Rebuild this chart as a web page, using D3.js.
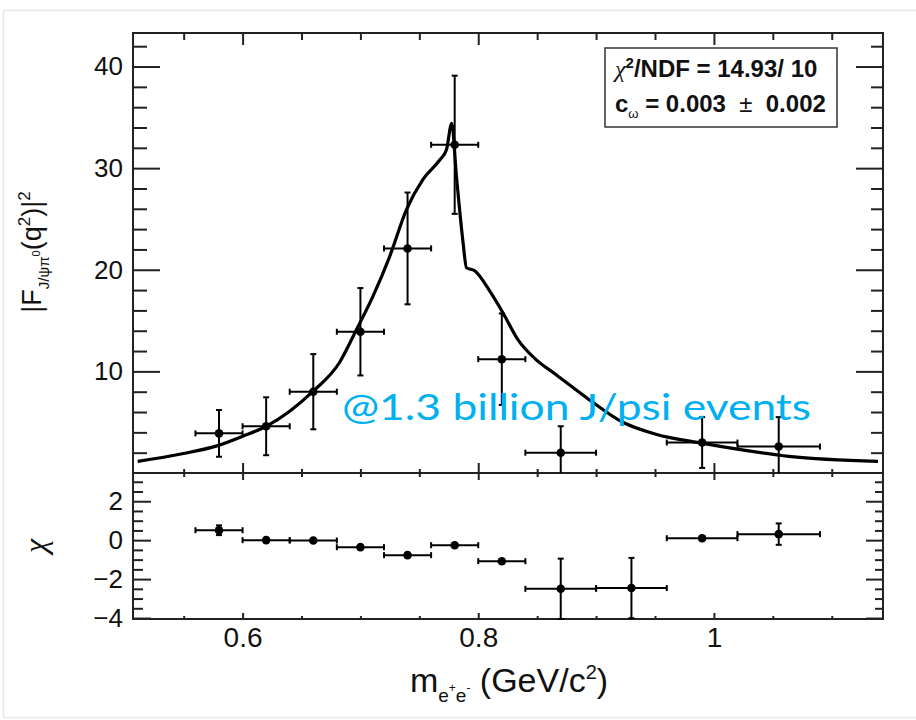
<!DOCTYPE html>
<html>
<head>
<meta charset="utf-8">
<script src="https://cdn.jsdelivr.net/npm/d3@7"></script>
<style>
body { margin: 0; background: #fff; }
svg text { font-family: "Liberation Sans", Arial, sans-serif; fill: #111; }
.ticks line { stroke: #222; stroke-width: 2; }
</style>
</head>
<body>
<script>
const WIDTH = 916;
const HEIGHT = 720;
const LEFT = 133, RIGHT = 883, TOP = 33, MID = 473, BOTTOM = 619;

// bins in m(e+e-)
var binCenter = [0.58, 0.62, 0.66, 0.70, 0.74, 0.78, 0.82, 0.87, 0.93, 0.99, 1.055];
var binLow    = [0.56, 0.60, 0.64, 0.68, 0.72, 0.76, 0.80, 0.84, 0.90, 0.96, 1.02];
var binHigh   = [0.60, 0.64, 0.68, 0.72, 0.76, 0.80, 0.84, 0.90, 0.96, 1.02, 1.09];

// |F|^2 data (the 0.93 bin is off scale)
var formFactor    = [3.9, 4.6, 8.0, 13.9, 22.1, 32.3, 11.2, 2.0, null, 3.0, 2.6];
var formFactorErr = [2.3, 2.85, 3.7, 4.3, 5.5, 6.8, 4.5, 2.6, null, 2.5, 2.9];

// pulls
var chi    = [0.51, 0.0, -0.02, -0.36, -0.77, -0.26, -1.08, -2.5, -2.46, 0.1, 0.31];
var chiErr = [0.25, 0, 0, 0, 0, 0, 0, 1.55, 1.55, 0, 0.55];

// fit curve
var fitMass = [0.511, 0.5465, 0.5796, 0.600, 0.620, 0.640, 0.6594, 0.6824, 0.6966, 0.7107, 0.7248,
               0.7390, 0.7531, 0.7673, 0.7730, 0.7775, 0.7815, 0.7871, 0.7900, 0.7970, 0.8098,
               0.8208, 0.8335, 0.8488, 0.8658, 0.8938, 0.9227, 0.9507, 0.9907, 1.0212, 1.0637, 1.1393];
var fitValue = [1.15, 1.84, 2.72, 3.61, 4.59, 6.07, 8.0, 10.9, 14.1, 17.4, 21.3,
                25.9, 28.9, 30.8, 31.8, 34.4, 29.2, 22.7, 20.2, 19.9, 17.9,
                15.8, 13.15, 11.18, 9.7, 7.25, 4.99, 3.81, 2.92, 2.33, 1.64, 1.15];

var xMajor = [0.6, 0.8, 1.0];
var xMinor = d3.range(0.55, 1.14, 0.05).filter(function (v) { return xMajor.every(function (m) { return Math.abs(m - v) > 1e-6; }); });
var yMajor = [10, 20, 30, 40];
var yMinor = d3.range(2, 43, 2).filter(function (v) { return v % 10 !== 0; });
var chiMajor = [-4, -2, 0, 2];
var chiMinor = d3.range(-3.5, 3.1, 0.5).filter(function (v) { return v % 2 !== 0; });

var svg = d3.select('body').append('svg')
    .attr('width', WIDTH)
    .attr('height', HEIGHT);

// faint slide border
svg.append('rect')
    .attr('x', 3.5).attr('y', 10.5)
    .attr('width', 920).attr('height', 707)
    .attr('fill', 'none').attr('stroke', '#e8e8e8').attr('stroke-width', 1.5);

var xScale = d3.scaleLinear().domain([0.507, 1.1435]).range([LEFT, RIGHT]);
var yScale = d3.scaleLinear().domain([0, 43.3]).range([MID, TOP]);
var chiScale = d3.scaleLinear().domain([-4.05, 3.45]).range([BOTTOM, MID]);

var ticks = function (axis, x, y, values, size, labelled, padding) {
    var a = axis.tickValues(values).tickSizeInner(size).tickSizeOuter(0);
    if (labelled) {
        a.tickPadding(padding).tickFormat(d3.format('~g'));
    } else {
        a.tickFormat('');
    }
    var g = svg.append('g')
        .attr('class', 'ticks')
        .attr('transform', 'translate(' + x + ',' + y + ')')
        .call(a);
    g.select('.domain').remove();
    return g;
};

// upper panel ticks
ticks(d3.axisLeft(yScale), LEFT, 0, yMajor, -27, true, 10)
    .selectAll('text').attr('font-size', 26).attr('fill', '#111');
ticks(d3.axisLeft(yScale), LEFT, 0, yMinor, -14);
ticks(d3.axisRight(yScale), RIGHT, 0, yMajor, -27);
ticks(d3.axisRight(yScale), RIGHT, 0, yMinor, -12);
ticks(d3.axisTop(xScale), 0, TOP, xMajor, -12);
ticks(d3.axisTop(xScale), 0, TOP, xMinor, -7);
ticks(d3.axisBottom(xScale), 0, MID, xMajor, -10);
ticks(d3.axisBottom(xScale), 0, MID, xMinor, -4);

// lower panel ticks
ticks(d3.axisLeft(chiScale), LEFT, 0, chiMajor, -18, true, 10)
    .selectAll('text').attr('font-size', 26).attr('fill', '#111');
ticks(d3.axisLeft(chiScale), LEFT, 0, chiMinor, -10);
ticks(d3.axisRight(chiScale), RIGHT, 0, chiMajor, -17);
ticks(d3.axisRight(chiScale), RIGHT, 0, chiMinor, -8);
ticks(d3.axisTop(xScale), 0, MID, xMajor, -7);
ticks(d3.axisTop(xScale), 0, MID, xMinor, -4);
ticks(d3.axisBottom(xScale), 0, BOTTOM, xMajor, -6, true, 8)
    .selectAll('text').attr('font-size', 28).attr('fill', '#111');
ticks(d3.axisBottom(xScale), 0, BOTTOM, xMinor, -3);

// frames
svg.append('rect')
    .attr('x', LEFT).attr('y', TOP)
    .attr('width', RIGHT - LEFT).attr('height', BOTTOM - TOP)
    .attr('fill', 'none').attr('stroke', '#222').attr('stroke-width', 2);
svg.append('line')
    .attr('x1', LEFT).attr('x2', RIGHT).attr('y1', MID).attr('y2', MID)
    .attr('stroke', '#222').attr('stroke-width', 2);

// clip for upper panel
svg.append('clipPath').attr('id', 'upper')
    .append('rect').attr('x', LEFT).attr('y', TOP).attr('width', RIGHT - LEFT).attr('height', MID - TOP);

// fit curve
var fitLine = d3.line()
    .x(function (d, i) { return xScale(fitMass[i]); })
    .y(function (d) { return yScale(d); })
    .curve(d3.curveMonotoneX);

svg.append('path')
    .attr('clip-path', 'url(#upper)')
    .attr('d', fitLine(fitValue))
    .attr('fill', 'none')
    .attr('stroke', '#000')
    .attr('stroke-width', 3.2);

var drawPoints = function (values, errors, scale, clip) {
    var g = svg.append('g').attr('stroke', '#000').attr('stroke-width', 2);
    if (clip) g.attr('clip-path', 'url(#upper)');
    var idx = d3.range(values.length).filter(function (i) { return values[i] !== null; });
    var cap = 3;
    idx.forEach(function (i) {
        var cx = xScale(binCenter[i]);
        var cy = scale(values[i]);
        var x0 = xScale(binLow[i]), x1 = xScale(binHigh[i]);
        g.append('line').attr('x1', x0).attr('x2', x1).attr('y1', cy).attr('y2', cy);
        g.append('line').attr('x1', x0).attr('x2', x0).attr('y1', cy - cap).attr('y2', cy + cap);
        g.append('line').attr('x1', x1).attr('x2', x1).attr('y1', cy - cap).attr('y2', cy + cap);
        if (errors[i] > 0) {
            var y0 = scale(values[i] + errors[i]), y1 = scale(values[i] - errors[i]);
            g.append('line').attr('x1', cx).attr('x2', cx).attr('y1', y0).attr('y2', y1);
            g.append('line').attr('x1', cx - cap).attr('x2', cx + cap).attr('y1', y0).attr('y2', y0);
            g.append('line').attr('x1', cx - cap).attr('x2', cx + cap).attr('y1', y1).attr('y2', y1);
        }
        g.append('circle').attr('cx', cx).attr('cy', cy).attr('r', 4.3)
            .attr('fill', '#000').attr('stroke', 'none');
    });
};

drawPoints(formFactor, formFactorErr, yScale, true);
drawPoints(chi, chiErr, chiScale, false);

// axis titles
var yTitle = svg.append('text')
    .attr('transform', 'translate(41,252) rotate(-90)')
    .attr('text-anchor', 'middle')
    .attr('font-size', 27);
yTitle.append('tspan').text('|F');
yTitle.append('tspan').attr('font-size', 15).attr('dy', 8).text('J/ψπ');
yTitle.append('tspan').attr('font-size', 11).attr('dy', -9).text('0');
yTitle.append('tspan').attr('dy', 1).text('(q');
yTitle.append('tspan').attr('font-size', 17).attr('dy', -11).text('2');
yTitle.append('tspan').attr('dy', 11).text(')|');
yTitle.append('tspan').attr('font-size', 17).attr('dy', -11).text('2');

svg.append('text')
    .attr('transform', 'translate(46,546) rotate(-90)')
    .attr('text-anchor', 'middle')
    .attr('font-size', 32)
    .style('font-family', '"Liberation Serif", "DejaVu Serif", serif')
    .style('font-style', 'italic')
    .text('χ');

var xTitle = svg.append('text')
    .attr('x', 509).attr('y', 692)
    .attr('text-anchor', 'middle')
    .attr('font-size', 34);
xTitle.append('tspan').text('m');
xTitle.append('tspan').attr('font-size', 19).attr('dy', 10).text('e');
xTitle.append('tspan').attr('font-size', 12).attr('dy', -10).text('+');
xTitle.append('tspan').attr('font-size', 19).attr('dy', 10).text('e');
xTitle.append('tspan').attr('font-size', 12).attr('dy', -10).text('-');
xTitle.append('tspan').attr('dy', 0).text(' (GeV/c');
xTitle.append('tspan').attr('font-size', 20).attr('dy', -13).text('2');
xTitle.append('tspan').attr('dy', 13).text(')');

// fit result box
svg.append('rect')
    .attr('x', 605).attr('y', 48)
    .attr('width', 232).attr('height', 79)
    .attr('fill', '#fff').attr('stroke', '#333').attr('stroke-width', 1.5);
var line1 = svg.append('text').attr('x', 615).attr('y', 77)
    .attr('font-size', 24).attr('font-weight', 'bold');
line1.append('tspan').attr('font-weight', 'normal')
    .style('font-family', '"Liberation Serif", "DejaVu Serif", serif')
    .style('font-style', 'italic').text('χ');
line1.append('tspan').attr('font-size', 15).attr('dy', -9).text('2');
line1.append('tspan').attr('dy', 9).text('/NDF = 14.93/ 10');
var line2 = svg.append('text').attr('x', 615).attr('y', 112)
    .attr('font-size', 24).attr('font-weight', 'bold')
    .style('white-space', 'pre');
line2.append('tspan').text('c');
line2.append('tspan').attr('font-size', 13).attr('font-weight', 'normal').attr('dy', 6).text('ω');
line2.append('tspan').attr('dy', -6).text(' = 0.003  ');
line2.append('tspan').attr('font-weight', 'normal').text('±');
line2.append('tspan').text('  0.002');

// annotation
svg.append('text')
    .attr('x', 342).attr('y', 420)
    .attr('font-size', 37)
    .attr('textLength', 469)
    .attr('lengthAdjust', 'spacingAndGlyphs')
    .style('font-family', 'Lato, "Open Sans", sans-serif')
    .style('fill', '#00b0f0')
    .text('@1.3 billion J/psi events');
</script>
</body>
</html>
